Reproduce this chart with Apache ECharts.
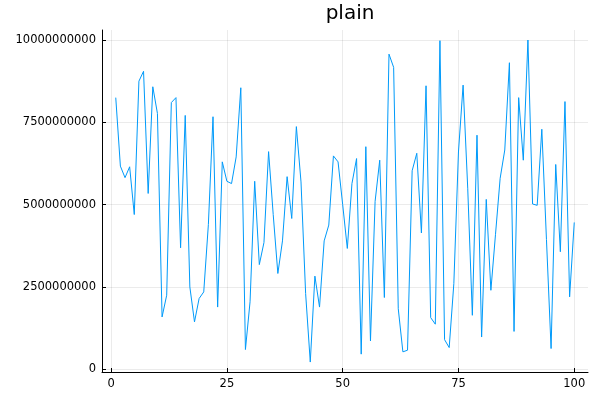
<!DOCTYPE html>
<html>
<head>
<meta charset="utf-8">
<script src="https://cdn.jsdelivr.net/npm/echarts@6/dist/echarts.min.js"></script>
<style>html,body{margin:0;padding:0;background:#fff}#c{width:600px;height:400px}</style>
</head>
<body>
<div id="c"></div>
<script>
const title = "plain";
const xValues = Array.from({length: 100}, (_, k) => k + 1);
const yValuesE9 = [
  8.25, 6.17, 5.82, 6.15, 4.70, 8.75, 9.05, 5.34, 8.58, 7.77,
  1.59, 2.25, 8.10, 8.25, 3.69, 7.71, 2.50, 1.44, 2.15, 2.35,
  4.40, 7.67, 1.89, 6.30, 5.71, 5.64, 6.45, 8.55, 0.60, 2.05,
  5.71, 3.18, 3.85, 6.61, 4.70, 2.91, 3.90, 5.85, 4.58, 7.37,
  5.69, 2.30, 0.22, 2.83, 1.89, 3.90, 4.38, 6.48, 6.30, 5.00,
  3.67, 5.64, 6.40, 0.46, 6.76, 0.86, 5.10, 6.35, 2.18, 9.57,
  9.17, 1.84, 0.53, 0.58, 6.03, 6.56, 4.14, 8.61, 1.57, 1.37,
  9.98, 0.90, 0.66, 2.60, 6.60, 8.63, 5.50, 1.64, 7.11, 0.98,
  5.16, 2.40, 4.10, 5.80, 6.66, 9.31, 1.15, 8.25, 6.35, 10.00,
  5.02, 4.98, 7.29, 3.94, 0.63, 6.22, 3.57, 8.13, 2.20, 4.46
];
const yValues = yValuesE9.map(v => Math.round(v * 1e9));
const xTicks = [0, 25, 50, 75, 100];
const yTicks = [0, 2500000000, 5000000000, 7500000000, 10000000000];

const font = 'DejaVu Sans';
const chart = echarts.init(document.getElementById('c'), null, {renderer: 'canvas'});
chart.setOption({
  animation: false,
  backgroundColor: '#fff',
  title: {
    text: title, left: 345, top: -1, textAlign: 'center',
    textStyle: {fontFamily: font, fontSize: 20, fontWeight: 'normal', color: '#000'}
  },
  grid: {left: 102, right: 12, top: 30, bottom: 28, containLabel: false},
  xAxis: {
    type: 'value', min: -1.97, max: 102.97,
    axisLine: {show: true, onZero: false, lineStyle: {color: '#000', width: 1}},
    axisTick: {show: true, inside: true, length: 4, customValues: xTicks, lineStyle: {color: '#000'}},
    axisLabel: {customValues: xTicks, fontFamily: font, fontSize: 11.5, color: '#000', margin: 6, formatter: v => String(v)},
    splitLine: {show: true, lineStyle: {color: 'rgba(0,0,0,0.08)', width: 1}}
  },
  yAxis: {
    type: 'value', min: -82000000, max: 10304000000,
    axisLine: {show: true, onZero: false, lineStyle: {color: '#000', width: 1}},
    axisTick: {show: true, inside: true, length: 4, customValues: yTicks, lineStyle: {color: '#000'}},
    axisLabel: {customValues: yTicks, fontFamily: font, fontSize: 11.5, color: '#000', margin: 6, formatter: v => String(v)},
    splitLine: {show: true, lineStyle: {color: 'rgba(0,0,0,0.08)', width: 1}}
  },
  series: [{
    type: 'line',
    data: xValues.map((x, k) => [x, yValues[k]]),
    showSymbol: false,
    lineStyle: {color: '#009AFA', width: 1},
    itemStyle: {color: '#009AFA'}
  }]
});
</script>
</body>
</html>
